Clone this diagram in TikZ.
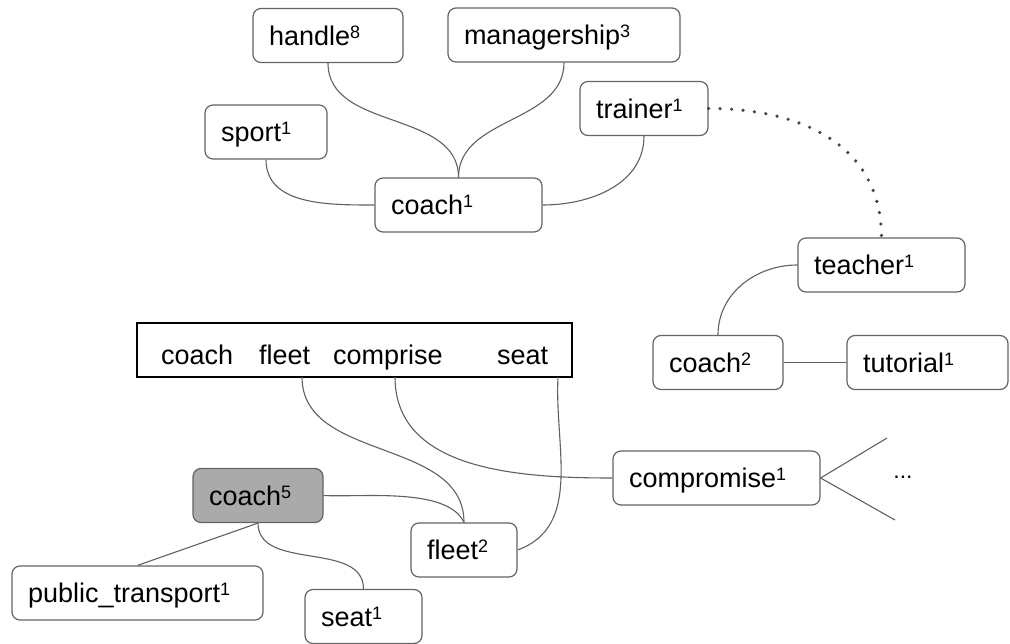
\documentclass[tikz,border=0pt]{standalone}
\usepackage{fontspec}
\setmainfont{Liberation Sans}
\usetikzlibrary{calc}
\definecolor{linkgray}{RGB}{96,96,96}
\definecolor{dotgray}{RGB}{70,70,70}
\definecolor{framegray}{RGB}{100,100,100}
\definecolor{headfill}{RGB}{170,170,170}
% raised sense number after a word
\newcommand\sensenum[1]{\raisebox{7pt}{\fontsize{18}{18}\selectfont #1}}
% left-aligned label inside a box of the given outer width
\newcommand\boxlabel[2]{\makebox[\dimexpr#1pt-32pt\relax][l]{#2}}
\begin{document}
\begin{tikzpicture}[x=1pt,y=1pt,
  sense/.style={draw=framegray, line width=1.2pt, rounded corners=8pt,
    inner xsep=16pt, inner ysep=0pt, minimum height=54pt,
    text height=19.5pt, text depth=0pt, anchor=center,
    font=\fontsize{27}{31}\selectfont},
  headsense/.style={sense, fill=headfill},
  sentframe/.style={draw=black, line width=1.4pt, inner sep=0pt,
    minimum width=435pt, minimum height=54pt},
  sentword/.style={inner sep=0pt, anchor=base west,
    font=\fontsize{27}{31}\selectfont},
  link/.style={draw=linkgray, line width=1.1pt},
  assoc/.style={draw=dotgray, line width=3.6pt, line cap=round,
    dash pattern=on 0pt off 11.5pt}
]
\useasboundingbox (0,0) rectangle (1010,-644);

% upper cluster: sense 1 of "coach"
\node[sense] (handle) at (328,-35.5) {\boxlabel{150}{handle\sensenum{8}}};
\node[sense] (mgr) at (564,-35) {\boxlabel{232}{managership\sensenum{3}}};
\node[sense] (trainer) at (644,-108.5) {\boxlabel{128}{trainer\sensenum{1}}};
\node[sense] (sport) at (266,-132) {\boxlabel{122}{sport\sensenum{1}}};
\node[sense] (coachA) at (458.5,-205) {\boxlabel{167}{coach\sensenum{1}}};

% right cluster: sense 2 of "coach"
\node[sense] (teacher) at (881.5,-265) {\boxlabel{167}{teacher\sensenum{1}}};
\node[sense] (coachB) at (718,-362.5) {\boxlabel{130}{coach\sensenum{2}}};
\node[sense] (tutorial) at (927.5,-362.5) {\boxlabel{161}{tutorial\sensenum{1}}};

% the sentence
\node[sentframe] (sent) at (354.5,-350) {};
\node[sentword] (w1) at (161,-365) {coach};
\node[sentword] (w2) at (259,-365) {fleet};
\node[sentword] (w3) at (333,-365) {comprise};
\node[sentword] (w4) at (497,-365) {seat};
\coordinate (pf) at (302,-377);
\coordinate (pc) at (395,-377);
\coordinate (ps) at (558,-377);

% lower cluster: chosen sense 5
\node[headsense] (coachC) at (258,-495.5) {\boxlabel{130}{coach\sensenum{5}}};
\node[sense] (pubtr) at (137.5,-593) {\boxlabel{251}{public\_transport\sensenum{1}}};
\node[sense] (seat) at (363.5,-616.5) {\boxlabel{117}{seat\sensenum{1}}};
\node[sense] (fleet) at (464,-550) {\boxlabel{106}{fleet\sensenum{2}}};
\node[sense] (compr) at (716.5,-478) {\boxlabel{207}{compromise\sensenum{1}}};
\coordinate (fanUp) at (887,-438);
\coordinate (fanDown) at (895,-520);
\node[inner sep=0pt, anchor=base, font=\fontsize{23}{26}\selectfont]
  (more) at (903,-478) {...};

% links of the upper cluster
\path[link] (handle.south) to[out=-90,in=90] (coachA.north);
\path[link] (mgr.south) to[out=-90,in=90] (coachA.north);
\path[link] (sport.south) to[out=-90,in=180] (coachA.west);
\path[link] (trainer.south) to[out=-90,in=0] (coachA.east);
\path[assoc] (trainer.east) to[out=0,in=90,looseness=1.1] (teacher.north);

% links of the right cluster
\path[link] (teacher.west) to[out=180,in=90] (coachB.north);
\path[link] (coachB.east) -- (tutorial.west);

% links from the sentence
\path[link] (pf) to[out=-90,in=90] (fleet.north);
\path[link] (pc) to[out=-90,in=180] (compr.west);
\path[link] (ps) to[out=-93,in=20] (fleet.east);

% links of the lower cluster
\path[link] (coachC.east) to[out=-3,in=115,looseness=0.7] (fleet.north);
\path[link] (coachC.south) -- (pubtr.north);
\path[link] (coachC.south) to[out=-90,in=90] (seat.north);
\path[link] (compr.east) -- (fanUp);
\path[link] (compr.east) -- (fanDown);
\end{tikzpicture}
\end{document}
